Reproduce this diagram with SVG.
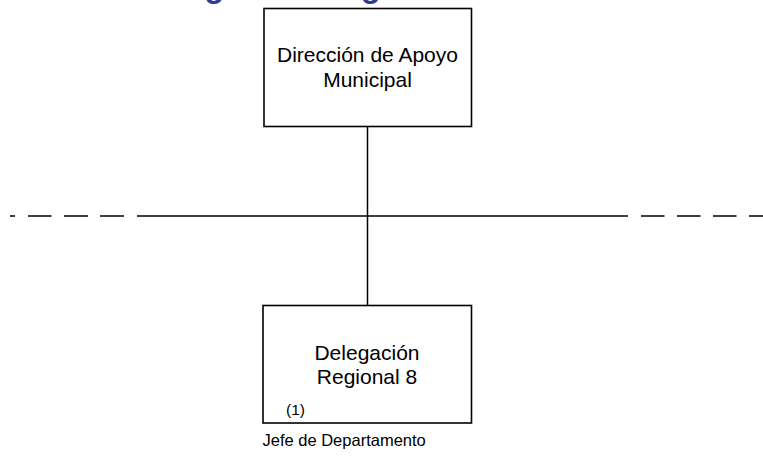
<svg xmlns="http://www.w3.org/2000/svg" width="763" height="456" viewBox="0 0 763 456">
<style>
.box{fill:#fff;stroke:#000;stroke-width:1.6}
.lbl{font-family:"Liberation Sans",Arial,sans-serif;font-size:21px;fill:#000;text-anchor:middle}
.small{font-family:"Liberation Sans",Arial,sans-serif;fill:#000}
.conn{fill:none;stroke:#000;stroke-width:1.5}
</style>
<rect width="763" height="456" fill="#fff"/>
<text x="135" y="-3" font-family="'Liberation Sans',Arial,sans-serif" font-weight="bold" font-size="32.75" fill="#2E3C98">Delegación Regional 8</text>
<g id="connectors">
<path class="conn" d="M367.5 126.5V305.5"/>
<path class="conn" d="M10 216H15M28 216H51.5M64 216H88M100 216H124M137 216H628M641 216H664.5M677 216H700.5M713 216H736.5M749 216H763"/>
</g>
<g id="node-direccion">
<rect class="box" x="264" y="8.5" width="207.5" height="118"/>
<text class="lbl" x="367.5" y="62">Dirección de Apoyo</text>
<text class="lbl" x="367.5" y="87">Municipal</text>
</g>
<g id="node-delegacion">
<rect class="box" x="263" y="305.5" width="208.5" height="117.5"/>
<text class="lbl" x="367" y="359.5">Delegación</text>
<text class="lbl" x="367" y="384">Regional 8</text>
<text class="small" x="286" y="415" font-size="15.5">(1)</text>
</g>
<text class="small" x="262.5" y="446" font-size="16.5">Jefe de Departamento</text>
</svg>
